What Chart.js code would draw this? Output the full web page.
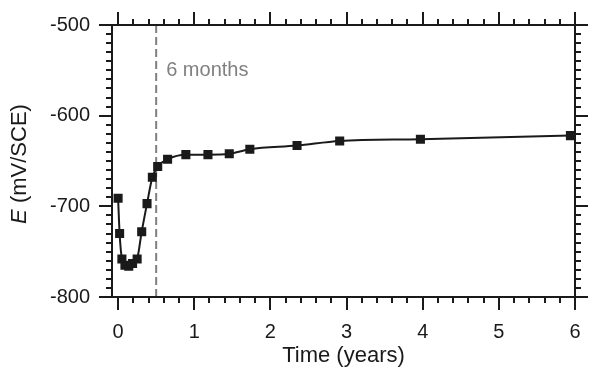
<!DOCTYPE html>
<html><head><meta charset="utf-8">
<script src="https://cdn.jsdelivr.net/npm/chart.js@4/dist/chart.umd.min.js"></script>
<style>html,body{margin:0;padding:0;background:#fff}#c{display:block}</style>
</head><body>
<canvas id="c" width="595" height="377"></canvas>
<script>
// ---- data ----
const timeYears = [0, 0.02, 0.05, 0.09, 0.14, 0.19, 0.25, 0.31, 0.38, 0.45, 0.52, 0.65, 0.89, 1.18, 1.46, 1.73, 2.35, 2.91, 3.97, 5.94];
const potentialMV = [-691, -730, -758, -765, -766, -763, -758, -728, -697, -668, -656, -648, -643, -643, -642, -637, -633, -628, -626, -622];
const xMajorTicks = [0, 1, 2, 3, 4, 5, 6];
const yMajorTicks = [-800, -700, -600, -500];
const xMinorStep = 0.2;
const yMinorStep = 10;
const xRange = [-0.08, 6];
const yRange = [-800, -500];
const markerTime = 0.5;
const markerLabel = '6 months';
const xTitle = 'Time (years)';
const yTitleItalic = 'E';
const yTitleRest = ' (mV/SCE)';

const FONT = '"Liberation Sans", Arial, sans-serif';
const INK = '#1a1a1a';
const GRAY = '#808080';

const points = timeYears.map((t, i) => ({x: t, y: potentialMV[i]}));

function noPad(s) { s.paddingTop = 0; s.paddingBottom = 0; s.paddingLeft = 0; s.paddingRight = 0; }

const framePlugin = {
  id: 'frame',
  afterDraw(chart) {
    const {ctx, chartArea: a, scales: {x, y}} = chart;
    ctx.save();
    ctx.strokeStyle = INK;
    ctx.lineWidth = 2;
    ctx.lineCap = 'butt';
    ctx.strokeRect(a.left, a.top, a.right - a.left, a.bottom - a.top);
    ctx.beginPath();
    // x ticks
    for (let v = xMajorTicks[0]; v <= xMajorTicks[xMajorTicks.length - 1] + 1e-9; v += xMinorStep) {
      const vv = Math.round(v * 100) / 100;
      const major = xMajorTicks.includes(vv);
      const len = major ? 13 : 6;
      const px = Math.round(x.getPixelForValue(vv));
      ctx.moveTo(px, a.bottom); ctx.lineTo(px, a.bottom + len);
      ctx.moveTo(px, a.top); ctx.lineTo(px, a.top - len);
    }
    // y ticks
    for (let v = yRange[0]; v <= yRange[1]; v += yMinorStep) {
      const major = yMajorTicks.includes(v);
      const len = major ? 13 : 6;
      const py = Math.round(y.getPixelForValue(v));
      ctx.moveTo(a.left, py); ctx.lineTo(a.left - len, py);
      ctx.moveTo(a.right, py); ctx.lineTo(a.right + len, py);
    }
    ctx.stroke();

    // marker label
    ctx.fillStyle = GRAY;
    ctx.font = '20px ' + FONT;
    ctx.textAlign = 'left';
    ctx.textBaseline = 'alphabetic';
    ctx.fillText(markerLabel, x.getPixelForValue(markerTime) + 10, 76);

    // y title with italic E
    ctx.fillStyle = INK;
    ctx.translate(20, (a.top + a.bottom) / 2 + 3);
    ctx.rotate(-Math.PI / 2);
    ctx.textBaseline = 'middle';
    ctx.font = 'italic 22px ' + FONT;
    const w1 = ctx.measureText(yTitleItalic).width;
    ctx.font = '22px ' + FONT;
    const w2 = ctx.measureText(yTitleRest).width;
    let sx = -(w1 + w2) / 2;
    ctx.font = 'italic 22px ' + FONT;
    ctx.fillText(yTitleItalic, sx, 0);
    ctx.font = '22px ' + FONT;
    ctx.fillText(yTitleRest, sx + w1, 0);
    ctx.restore();
  }
};

new Chart(document.getElementById('c'), {
  type: 'scatter',
  data: {
    datasets: [
      {
        label: 'E',
        data: points,
        showLine: true,
        borderColor: INK,
        backgroundColor: INK,
        borderWidth: 2,
        pointStyle: 'rect',
        pointRadius: 5,
        pointHoverRadius: 5,
        cubicInterpolationMode: 'monotone',
        order: 1
      },
      {
        label: 'marker',
        data: [{x: markerTime, y: yRange[1]}, {x: markerTime, y: yRange[0]}],
        showLine: true,
        borderColor: GRAY,
        borderWidth: 2,
        borderDash: [8, 4],
        pointRadius: 0,
        order: 2
      }
    ]
  },
  options: {
    responsive: false,
    devicePixelRatio: 1,
    animation: false,
    events: [],
    layout: {padding: {top: 25, right: 20, left: 0, bottom: 0}},
    plugins: {legend: {display: false}, tooltip: {enabled: false}},
    scales: {
      x: {
        type: 'linear',
        min: xRange[0], max: xRange[1],
        afterFit(s) { s.height = 80; noPad(s); },
        afterBuildTicks(s) { s.ticks = xMajorTicks.map(v => ({value: v})); },
        grid: {display: false, drawTicks: false},
        border: {display: false},
        ticks: {color: INK, font: {family: FONT, size: 20}, padding: 23, maxRotation: 0, autoSkip: false},
        title: {display: true, text: xTitle, color: INK, font: {family: FONT, size: 22}, padding: {top: 0, bottom: 8}}
      },
      y: {
        type: 'linear',
        min: yRange[0], max: yRange[1],
        afterFit(s) { s.width = 112; noPad(s); },
        afterBuildTicks(s) { s.ticks = yMajorTicks.map(v => ({value: v})); },
        grid: {display: false, drawTicks: false},
        border: {display: false},
        ticks: {color: INK, font: {family: FONT, size: 20}, padding: 22, autoSkip: false}
      }
    }
  },
  plugins: [framePlugin]
});
</script>
</body></html>
